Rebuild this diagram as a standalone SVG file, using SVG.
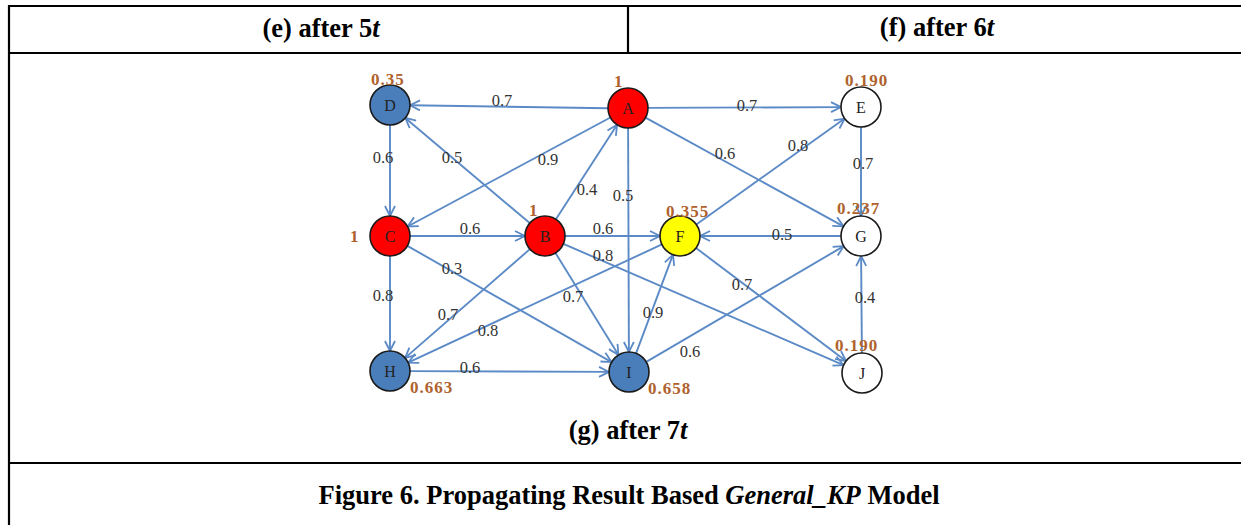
<svg xmlns="http://www.w3.org/2000/svg" width="1241" height="525" viewBox="0 0 1241 525">
<style>
.tbl{stroke:#000;stroke-width:2.2;fill:none}
.hd{font-family:"Liberation Serif","Times New Roman",serif;font-weight:bold;font-size:26.5px;fill:#000;text-anchor:middle}
.it{font-style:italic}
.edge{stroke:#5b8ac6;stroke-width:1.9;fill:none;marker-end:url(#arr)}
.nd{stroke:#1a1a1a;stroke-width:1.6}
.nl{font-family:"Liberation Serif","Times New Roman",serif;font-size:16px;fill:#222;text-anchor:middle}
.el{font-family:"Liberation Serif","Times New Roman",serif;font-size:16.5px;fill:#333;text-anchor:middle}
.vl{font-family:"Liberation Serif","Times New Roman",serif;font-weight:bold;font-size:17px;fill:#b0622d;letter-spacing:1px}
.blue{fill:#4a7ebb}.red{fill:#ff0000}.yel{fill:#ffff00}.wht{fill:#fff}
</style>
<defs>
<marker id="arr" viewBox="0 0 12 12" refX="11" refY="6" markerWidth="12" markerHeight="12" markerUnits="userSpaceOnUse" orient="auto">
<path d="M1,1 L11,6 L1,11" fill="none" stroke="#5b8ac6" stroke-width="1.8"/>
</marker>
</defs>
<rect width="1241" height="525" fill="#fff"/>
<g id="table">
<line class="tbl" x1="9" y1="6" x2="1241" y2="6"/>
<line class="tbl" x1="9" y1="53" x2="1241" y2="53"/>
<line class="tbl" x1="9" y1="463" x2="1241" y2="463"/>
<line class="tbl" x1="9" y1="5" x2="9" y2="525"/>
<line class="tbl" x1="628" y1="6" x2="628" y2="53"/>
<text class="hd" x="321" y="37">(e) after 5<tspan class="it">t</tspan></text>
<text class="hd" x="937" y="36">(f) after 6<tspan class="it">t</tspan></text>
<text class="hd" x="628" y="439">(g) after 7<tspan class="it">t</tspan></text>
<text class="hd" x="629" y="504">Figure 6. Propagating Result Based <tspan class="it">General_KP</tspan> Model</text>
</g>
<g id="connectors">
<line class="edge" x1="608" y1="108.25" x2="410" y2="105.25"/>
<line class="edge" x1="390" y1="125" x2="390" y2="216"/>
<line class="edge" x1="529.7" y1="223.1" x2="405.3" y2="117.9"/>
<line class="edge" x1="610.4" y1="117.5" x2="407.6" y2="226.5"/>
<line class="edge" x1="410" y1="236" x2="525" y2="236"/>
<line class="edge" x1="555.9" y1="219.2" x2="617.1" y2="124.8"/>
<line class="edge" x1="628.1" y1="128" x2="628.9" y2="352"/>
<line class="edge" x1="648" y1="107.9" x2="841" y2="107.1"/>
<line class="edge" x1="645.5" y1="117.6" x2="843.5" y2="226.4"/>
<line class="edge" x1="696.3" y1="224.4" x2="844.7" y2="118.6"/>
<line class="edge" x1="861" y1="127" x2="861" y2="216"/>
<line class="edge" x1="841" y1="236" x2="700" y2="236"/>
<line class="edge" x1="565" y1="236" x2="660" y2="236"/>
<line class="edge" x1="563.4" y1="243.9" x2="843.6" y2="365.1"/>
<line class="edge" x1="407.4" y1="245.9" x2="611.6" y2="362.1"/>
<line class="edge" x1="390" y1="256" x2="390" y2="351"/>
<line class="edge" x1="529.9" y1="249.1" x2="405.1" y2="357.9"/>
<line class="edge" x1="555.5" y1="253" x2="618.5" y2="355"/>
<line class="edge" x1="661.9" y1="244.4" x2="408.1" y2="362.6"/>
<line class="edge" x1="410" y1="371.1" x2="609" y2="371.9"/>
<line class="edge" x1="636" y1="353.3" x2="673" y2="254.7"/>
<line class="edge" x1="696" y1="248" x2="846" y2="361"/>
<line class="edge" x1="646.3" y1="361.9" x2="843.8" y2="246.1"/>
<line class="edge" x1="861.9" y1="353" x2="861.1" y2="256"/>
<text class="el" x="502" y="106">0.7</text>
<text class="el" x="383" y="163">0.6</text>
<text class="el" x="452" y="163">0.5</text>
<text class="el" x="548" y="165">0.9</text>
<text class="el" x="587" y="195">0.4</text>
<text class="el" x="623" y="201">0.5</text>
<text class="el" x="470" y="234">0.6</text>
<text class="el" x="603" y="234">0.6</text>
<text class="el" x="747" y="111">0.7</text>
<text class="el" x="725" y="159">0.6</text>
<text class="el" x="798" y="151">0.8</text>
<text class="el" x="863" y="169">0.7</text>
<text class="el" x="782" y="240">0.5</text>
<text class="el" x="603" y="261">0.8</text>
<text class="el" x="452" y="274">0.3</text>
<text class="el" x="383" y="301">0.8</text>
<text class="el" x="448" y="320">0.7</text>
<text class="el" x="573" y="302">0.7</text>
<text class="el" x="488" y="336">0.8</text>
<text class="el" x="470" y="373">0.6</text>
<text class="el" x="653" y="318">0.9</text>
<text class="el" x="742" y="290">0.7</text>
<text class="el" x="690" y="357">0.6</text>
<text class="el" x="865" y="303">0.4</text>
</g>
<g id="node-A"><circle class="nd red" cx="628" cy="108" r="20"/><text class="nl" x="628" y="113.5">A</text><text class="vl" x="614" y="87">1</text></g>
<g id="node-B"><circle class="nd red" cx="545" cy="236" r="20"/><text class="nl" x="545" y="241.5">B</text><text class="vl" x="529" y="216">1</text></g>
<g id="node-C"><circle class="nd red" cx="390" cy="236" r="20"/><text class="nl" x="390" y="241.5">C</text><text class="vl" x="350" y="242">1</text></g>
<g id="node-D"><circle class="nd blue" cx="390" cy="105" r="20"/><text class="nl" x="390" y="110.5">D</text><text class="vl" x="371" y="85">0.35</text></g>
<g id="node-E"><circle class="nd wht" cx="861" cy="107" r="20"/><text class="nl" x="861" y="112.5">E</text><text class="vl" x="845" y="86">0.190</text></g>
<g id="node-F"><circle class="nd yel" cx="680" cy="236" r="20"/><text class="nl" x="680" y="241.5">F</text><text class="vl" x="666" y="217">0.355</text></g>
<g id="node-G"><circle class="nd wht" cx="861" cy="236" r="20"/><text class="nl" x="861" y="241.5">G</text><text class="vl" x="837" y="214">0.237</text></g>
<g id="node-H"><circle class="nd blue" cx="390" cy="371" r="20"/><text class="nl" x="390" y="376.5">H</text><text class="vl" x="410" y="393">0.663</text></g>
<g id="node-I"><circle class="nd blue" cx="629" cy="372" r="20"/><text class="nl" x="629" y="377.5">I</text><text class="vl" x="648" y="394">0.658</text></g>
<g id="node-J"><circle class="nd wht" cx="862" cy="373" r="20"/><text class="nl" x="862" y="378.5">J</text><text class="vl" x="835" y="351">0.190</text></g>
</svg>
